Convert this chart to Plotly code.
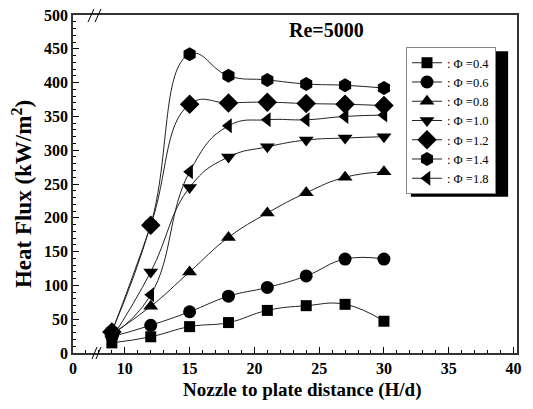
import plotly.graph_objects as go

hd = [9, 12, 15, 18, 21, 24, 27, 30]
phi04 = [15, 24, 39, 45, 63, 70, 72, 47]
phi06 = [24, 41, 61, 84, 97, 114, 139, 139]
phi08 = [28, 69, 120, 171, 207, 237, 260, 268]
phi10 = [22, 120, 245, 290, 305, 315, 318, 320]
phi12 = [31, 189, 368, 370, 371, 369, 368, 366]
phi14 = [32, 190, 442, 410, 404, 398, 396, 392]
phi18 = [27, 86, 268, 336, 345, 345, 350, 352]

series = [
    (": \u03a6 =0.4", phi04, "square", 11),
    (": \u03a6 =0.6", phi06, "circle", 13),
    (": \u03a6 =0.8", phi08, "triangle-up", 13),
    (": \u03a6 =1.0", phi10, "triangle-down", 13),
    (": \u03a6 =1.2", phi12, "diamond", 15),
    (": \u03a6 =1.4", phi14, "hexagon", 14),
    (": \u03a6 =1.8", phi18, "triangle-left", 13),
]

xtickvals = [6, 10, 15, 20, 25, 30, 35, 40]
xticktext = ["0", "10", "15", "20", "25", "30", "35", "40"]

fig = go.Figure()
for name, ys, sym, sz in series:
    fig.add_trace(go.Scatter(
        x=hd, y=ys, name=name, mode="lines+markers",
        line=dict(color="#222", width=1, shape="spline", smoothing=1.3),
        marker=dict(symbol=sym, size=sz, color="black", line=dict(width=0)),
    ))

SERIF = "Liberation Serif, Times New Roman, serif"
tickf = dict(family=SERIF, size=16, color="black", weight="bold")

fig.update_layout(
    width=533, height=409,
    margin=dict(l=73, r=16, t=15, b=56, autoexpand=False),
    paper_bgcolor="white", plot_bgcolor="white",
    showlegend=True,
    legend=dict(
        x=0.75, y=0.905, xanchor="left", yanchor="top",
        bgcolor="white", bordercolor="#888", borderwidth=1,
        font=dict(family=SERIF, size=12.5, color="black"),
        tracegroupgap=0, itemwidth=30,
    ),
    xaxis=dict(
        range=[6, 40.27], tickvals=xtickvals, ticktext=xticktext,
        ticks="inside", ticklen=6, tickwidth=1, tickcolor="black",
        minor=dict(tickvals=list(range(7, 41)), ticks="inside", ticklen=3, tickcolor="black"),
        showline=True, linecolor="#333", linewidth=1.5, mirror=True,
        showgrid=False, zeroline=False, tickfont=tickf, automargin=False,
        ticklabeloverflow="allow",
    ),
    yaxis=dict(
        range=[0, 500], dtick=50,
        ticks="inside", ticklen=6, tickwidth=1, tickcolor="black",
        minor=dict(dtick=10, ticks="inside", ticklen=3, tickcolor="black"),
        showline=True, linecolor="#333", linewidth=1.5, mirror=True,
        showgrid=False, zeroline=False, tickfont=tickf, automargin=False,
        ticklabeloverflow="allow",
    ),
)

# axis titles
fig.add_annotation(text="Nozzle to plate distance (H/d)", xref="paper", yref="paper",
                   x=0.516, y=-0.109, xanchor="center", yanchor="middle", showarrow=False,
                   font=dict(family=SERIF, size=19, color="black", weight="bold"))
fig.add_annotation(text="Heat Flux (kW/m<sup>2</sup>)", xref="paper", yref="paper",
                   x=-0.115, y=0.47, xanchor="center", yanchor="middle", showarrow=False,
                   textangle=-90,
                   font=dict(family=SERIF, size=23, color="black", weight="bold"))

fig.add_annotation(text="Re=5000", x=25.6, y=478, xref="x", yref="y",
                   xanchor="center", yanchor="middle",
                   showarrow=False, font=dict(family=SERIF, size=20, color="black", weight="bold"))

# axis-break marks
for x0, x1 in [(0.0428, 0.0541), (0.0518, 0.0631)]:
    fig.add_shape(type="line", xref="paper", yref="paper", x0=x0, x1=x1, y0=-0.018, y1=0.018,
                  line=dict(color="black", width=1))
for x0, x1 in [(0.0338, 0.0473), (0.0495, 0.0631)]:
    fig.add_shape(type="line", xref="paper", yref="paper", x0=x0, x1=x1, y0=0.979, y1=1.018,
                  line=dict(color="black", width=1))

# legend shadow
fig.add_shape(type="rect", xref="paper", yref="paper", x0=0.761, x1=0.98, y0=0.462, y1=0.893,
              fillcolor="black", line=dict(width=0), layer="above")

fig.write_html("out.html", config={"displayModeBar": False},
               post_script="document.body.style.margin='0';")
